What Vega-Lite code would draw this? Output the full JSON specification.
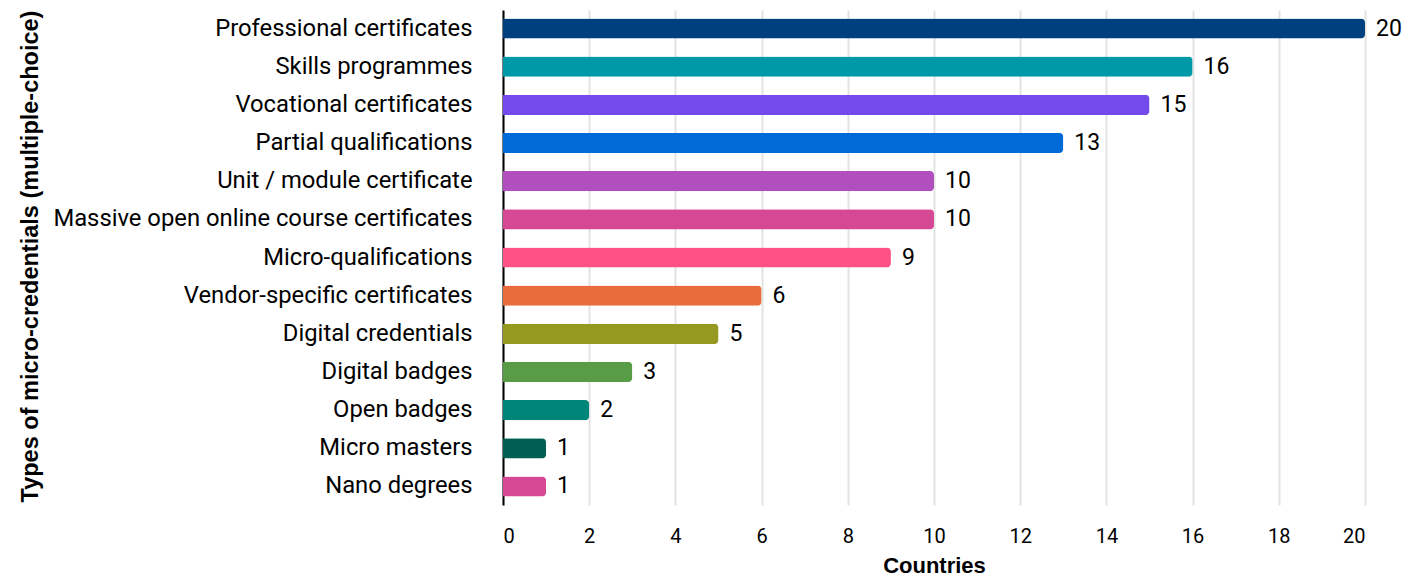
{
  "$schema": "https://vega.github.io/schema/vega-lite/v6.json",
  "width": 862,
  "height": 495,
  "autosize": {"type": "none"},
  "padding": {"left": 503, "top": 10, "right": 40, "bottom": 72},
  "background": "white",
  "config": {
    "view": {"stroke": null},
    "font": "Roboto"
  },
  "data": {
    "values": [
      {"type": "Professional certificates", "countries": 20, "color": "#00407F"},
      {"type": "Skills programmes", "countries": 16, "color": "#0099A8"},
      {"type": "Vocational certificates", "countries": 15, "color": "#734BEA"},
      {"type": "Partial qualifications", "countries": 13, "color": "#006BD6"},
      {"type": "Unit / module certificate", "countries": 10, "color": "#B04FBD"},
      {"type": "Massive open online course certificates", "countries": 10, "color": "#D64794"},
      {"type": "Micro-qualifications", "countries": 9, "color": "#FF5186"},
      {"type": "Vendor-specific certificates", "countries": 6, "color": "#E96D3C"},
      {"type": "Digital credentials", "countries": 5, "color": "#96991F"},
      {"type": "Digital badges", "countries": 3, "color": "#589C46"},
      {"type": "Open badges", "countries": 2, "color": "#008678"},
      {"type": "Micro masters", "countries": 1, "color": "#005E52"},
      {"type": "Nano degrees", "countries": 1, "color": "#D64794"}
    ]
  },
  "encoding": {
    "y": {
      "field": "type",
      "type": "nominal",
      "sort": null,
      "scale": {"paddingInner": 0.47, "paddingOuter": 0.22},
      "axis": {
        "title": "Types of micro-credentials (multiple-choice)",
        "titleFont": "Liberation Sans",
        "titleFontSize": 23.5,
        "titleFontWeight": "bold",
        "titleColor": "#000000",
        "titleX": -473,
        "titleY": 246,
        "titleAlign": "center",
        "titleBaseline": "middle",
        "titleAngle": -90,
        "labelFont": "Roboto",
        "labelFontSize": 23.8,
        "labelColor": "#000000",
        "labelPadding": 31,
        "labelLimit": 600,
        "ticks": false,
        "domain": true,
        "domainColor": "#000000",
        "domainWidth": 2,
        "grid": false
      }
    },
    "x": {
      "field": "countries",
      "type": "quantitative",
      "scale": {"domain": [0, 20], "nice": false},
      "axis": {
        "title": "Countries",
        "titleFont": "Liberation Sans",
        "titleFontSize": 22,
        "titleFontWeight": "bold",
        "titleColor": "#000000",
        "titlePadding": 9,
        "labelFont": "Roboto",
        "labelFontSize": 20,
        "labelColor": "#000000",
        "labelPadding": 21,
        "labelOverlap": false,
        "values": [0, 2, 4, 6, 8, 10, 12, 14, 16, 18, 20],
        "ticks": false,
        "domain": false,
        "grid": true,
        "gridColor": "#E3E3E3",
        "gridWidth": 2
      }
    }
  },
  "layer": [
    {
      "mark": {"type": "bar", "cornerRadiusEnd": 4},
      "encoding": {
        "color": {"field": "color", "type": "nominal", "scale": null}
      }
    },
    {
      "mark": {"type": "text", "align": "left", "baseline": "middle", "dx": 11, "font": "Roboto", "fontSize": 23, "color": "#000000"},
      "encoding": {
        "text": {"field": "countries", "type": "quantitative"}
      }
    }
  ]
}
